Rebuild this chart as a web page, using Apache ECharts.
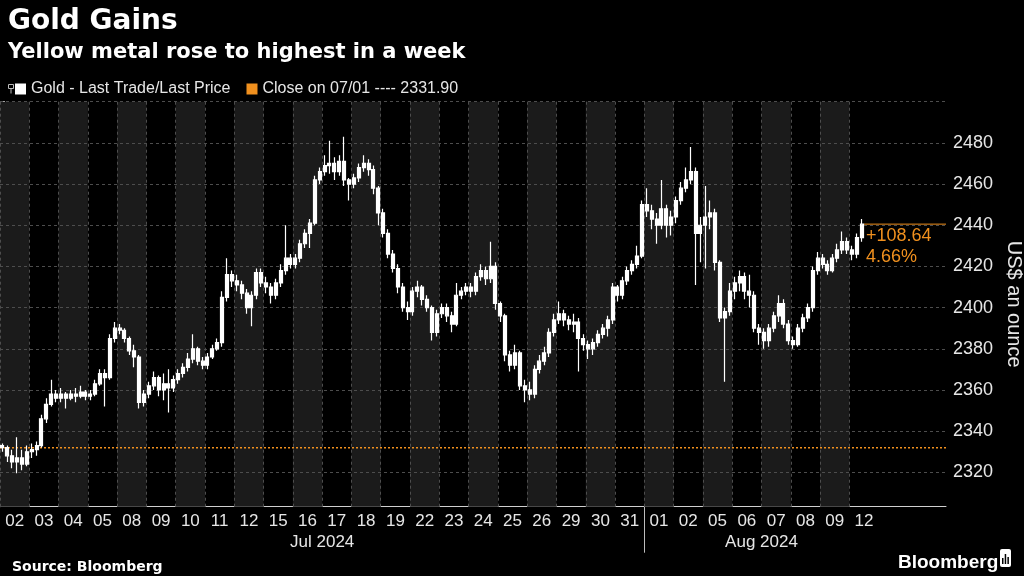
<!DOCTYPE html>
<html>
<head>
<meta charset="utf-8">
<script src="https://cdn.jsdelivr.net/npm/echarts@6/dist/echarts.min.js"></script>
<style>
html,body{margin:0;padding:0;background:#000;}
#chart{width:1024px;height:576px;}
</style>
</head>
<body>
<div id="chart"></div>
<script>
// ---------- data ----------
const dayLabels = ['02','03','04','05','08','09','10','11','12','15','16','17','18','19','22','23','24','25','26','29','30','31',
                   '01','02','05','06','07','08','09','12'];
const monthLabels = ['Jul 2024', 'Aug 2024'];
const monthStartDay = [0, 22];          // index of first trading day of each month
const barsPerDay = 6;
const yTicks = [2320, 2340, 2360, 2380, 2400, 2420, 2440, 2460, 2480];
const yMinorTicks = [2310,2320,2330,2340,2350,2360,2370,2380,2390,2400,2410,2420,2430,2440,2450,2460,2470,2480,2490,2500];
const closeRef = 2331.90;
const seriesName = 'Gold - Last Trade/Last Price';
const closeName = 'Close on 07/01 ---- 2331.90';
// intraday bars [open, close, low, high], 6 per trading day
const ohlc = [
 [2333,2332,2330,2334],[2332,2328,2325,2333],[2328,2325,2322,2331],[2325,2327,2319.5,2337],[2327,2324,2321,2331],[2324,2330,2323,2333],
 [2330,2331,2327,2334],[2331,2333,2328,2335],[2333,2346,2332,2348],[2346,2353,2344,2356],[2353,2358,2352,2365],[2358,2356,2354,2360],
 [2356,2358,2354,2361],[2358,2356,2351,2359],[2356,2358,2355,2360],[2358,2357,2354,2361],[2357,2359,2356,2362],[2359,2357,2355,2360],
 [2357,2358,2355,2360],[2358,2363,2357,2365],[2363,2368,2362,2370],[2368,2366,2352,2370],[2366,2385,2365,2387],[2385,2390,2383,2393],
 [2390,2389,2387,2392],[2389,2385,2383,2390],[2385,2379,2377,2386],[2379,2376,2371,2382],[2376,2354,2351,2377],[2354,2358,2352,2360],
 [2358,2362,2356,2364],[2362,2366,2360,2369],[2366,2360,2357,2367],[2360,2363,2355,2368],[2363,2361,2349,2370],[2361,2365,2359,2367],
 [2365,2368,2363,2370],[2368,2371,2366,2373],[2371,2375,2369,2378],[2375,2380,2373,2387],[2380,2374,2372,2381],[2374,2372,2370,2376],
 [2372,2376,2370,2378],[2376,2380,2375,2382],[2380,2383,2379,2385],[2383,2405,2381,2408],[2405,2416,2403,2424],[2416,2413,2410,2418],
 [2413,2411,2408,2416],[2411,2407,2404,2413],[2407,2400,2397,2409],[2400,2406,2391,2408],[2406,2417,2404,2419],[2417,2412,2410,2419],
 [2412,2410,2407,2415],[2410,2406,2402,2412],[2406,2412,2404,2414],[2412,2418,2410,2421],[2418,2424,2416,2440],[2424,2421,2419,2426],
 [2421,2424,2419,2426],[2424,2431,2422,2433],[2431,2436,2429,2438],[2436,2441,2429,2443],[2441,2462,2440,2464],[2462,2466,2460,2468],
 [2466,2469,2464,2474],[2469,2470,2465,2481],[2470,2466,2462,2473],[2466,2471,2464,2474],[2471,2462,2459,2483],[2462,2460,2452,2463],
 [2460,2463,2458,2465],[2463,2468,2461,2470],[2468,2470,2466,2474],[2470,2467,2464,2472],[2467,2458,2455,2469],[2458,2446,2440,2459],
 [2446,2436,2434,2448],[2436,2426,2424,2438],[2426,2419,2417,2428],[2419,2410,2407,2421],[2410,2400,2398,2412],[2400,2398,2394,2403],
 [2398,2408,2396,2410],[2408,2410,2405,2413],[2410,2404,2401,2411],[2404,2400,2398,2406],[2400,2388,2384,2401],[2388,2397,2386,2399],
 [2397,2400,2395,2402],[2400,2396,2393,2402],[2396,2392,2388,2398],[2392,2406,2391,2412],[2406,2408,2404,2410],[2408,2410,2406,2412],
 [2410,2408,2405,2412],[2408,2415,2406,2417],[2415,2418,2413,2421],[2418,2414,2411,2420],[2414,2420,2412,2432],[2420,2402,2399,2422],
 [2402,2396,2393,2403],[2396,2377,2374,2397],[2377,2372,2369,2379],[2372,2378,2370,2382],[2378,2362,2360,2379],[2362,2360,2354,2365],
 [2360,2358,2355,2364],[2358,2370,2356,2372],[2370,2374,2368,2377],[2374,2378,2372,2381],[2378,2388,2376,2390],[2388,2394,2386,2397],
 [2394,2397,2392,2403],[2397,2394,2391,2399],[2394,2392,2389,2396],[2392,2393,2388,2397],[2393,2385,2369,2395],[2385,2382,2379,2387],
 [2382,2380,2375,2384],[2380,2383,2377,2385],[2383,2387,2381,2389],[2387,2390,2385,2392],[2390,2394,2386,2396],[2394,2410,2392,2412],
 [2410,2406,2403,2411],[2406,2413,2404,2415],[2413,2418,2411,2420],[2418,2421,2416,2423],[2421,2425,2419,2430],[2425,2450,2424,2452],
 [2450,2447,2444,2458],[2447,2443,2438,2450],[2443,2440,2431,2446],[2440,2448,2438,2462],[2448,2440,2434,2450],[2440,2444,2435,2447],
 [2444,2452,2441,2454],[2452,2458,2450,2461],[2458,2462,2456,2468],[2462,2466,2460,2478],[2466,2436,2411,2468],[2436,2440,2422,2444],
 [2440,2444,2419,2459],[2444,2446,2438,2452],[2446,2422,2418,2448],[2422,2395,2393,2423],[2395,2398,2364,2400],[2398,2408,2396,2412],
 [2408,2412,2404,2415],[2412,2415,2408,2418],[2415,2408,2404,2417],[2408,2406,2400,2416],[2406,2390,2388,2408],[2390,2388,2382,2392],
 [2388,2384,2380,2390],[2384,2390,2381,2392],[2390,2396,2388,2398],[2396,2402,2393,2406],[2402,2392,2390,2404],[2392,2384,2382,2394],
 [2384,2382,2380,2386],[2382,2390,2381,2392],[2390,2395,2388,2397],[2395,2400,2393,2402],[2400,2418,2398,2420],[2418,2424,2416,2427],
 [2424,2421,2419,2426],[2421,2418,2416,2423],[2418,2424,2417,2426],[2424,2428,2422,2431],[2428,2432,2426,2437],[2432,2428,2426,2434],
 [2428,2426,2423,2430],[2426,2434,2424,2436],[2434,2440.54,2432,2443]
];

// ---------- derived ----------
const X_MAX = 32.3, Y_MIN = 2303.3, Y_MAX = 2500;
const candles = ohlc.map((d, i) => [(i + 0.5) / barsPerDay, d[0], d[1], d[2], d[3]]);
const lastX = ohlc.length / barsPerDay;
const lastClose = ohlc[ohlc.length - 1][1];
const change = lastClose - closeRef;
const pct = change / closeRef * 100;
const nDays = dayLabels.length;
const monthCenters = monthStartDay.map((s, i) => {
  const e = i + 1 < monthStartDay.length ? monthStartDay[i + 1] : nDays;
  return (s + e) / 2;
});
const bands = [];
for (let k = 0; k < nDays; k += 2) bands.push([{ xAxis: k }, { xAxis: k + 1 }]);
const vLines = [];
for (let k = 0; k < nDays; k++) vLines.push({ xAxis: k });
const hLines = yTicks.concat([Y_MAX]).map(v => ({ yAxis: v }));

const ORANGE = '#f0901e';
const chart = echarts.init(document.getElementById('chart'));
const option = {
  backgroundColor: '#000',
  animation: false,
  title: [
    { text: 'Gold Gains', left: 3, top: 3,
      textStyle: { color: '#fff', fontFamily: 'DejaVu Sans', fontWeight: 'bold', fontSize: 28 } },
    { text: 'Yellow metal rose to highest in a week', left: 3, top: 37,
      textStyle: { color: '#fff', fontFamily: 'DejaVu Sans', fontWeight: 'bold', fontSize: 21 } },
    { text: 'Source: Bloomberg', left: 7, top: 555,
      textStyle: { color: '#fff', fontFamily: 'DejaVu Sans', fontWeight: 'bold', fontSize: 14 } },
    { text: 'Bloomberg', left: 893, top: 548,
      textStyle: { color: '#fff', fontFamily: 'Liberation Sans', fontWeight: 'bold', fontSize: 19 } }
  ],
  legend: {
    left: 15, top: 81, padding: 0, itemWidth: 11, itemHeight: 11, itemGap: 16,
    textStyle: { color: '#e6e6e6', fontFamily: 'Liberation Sans', fontSize: 16 },
    data: [
      { name: seriesName, icon: 'rect', itemStyle: { color: '#fff', borderWidth: 0 } },
      { name: closeName, icon: 'rect', itemStyle: { color: ORANGE, borderWidth: 0 } }
    ],
    selectedMode: false
  },
  grid: { left: 0, right: 78, top: 101.7, bottom: 69.3, containLabel: false, outerBoundsMode: 'none' },
  xAxis: [
    { type: 'value', min: 0, max: X_MAX,
      axisLine: { show: true, lineStyle: { color: '#d0d0d0', width: 1 } },
      axisTick: { show: true, customValues: [monthStartDay[1]], length: 46, lineStyle: { color: '#bdbdbd', width: 1 } },
      splitLine: { show: false },
      axisLabel: { customValues: dayLabels.map((d, i) => i + 0.5), formatter: v => dayLabels[Math.floor(v)],
        color: '#e6e6e6', fontFamily: 'Liberation Sans', fontSize: 17, margin: 6 } },
    { type: 'value', min: 0, max: X_MAX, position: 'bottom', offset: 21,
      axisLine: { show: false }, axisTick: { show: false }, splitLine: { show: false },
      axisLabel: { customValues: monthCenters, formatter: v => monthLabels[monthCenters.indexOf(v)],
        color: '#e6e6e6', fontFamily: 'Liberation Sans', fontSize: 17, margin: 6 } }
  ],
  yAxis: {
    type: 'value', position: 'right', min: Y_MIN, max: Y_MAX,
    name: 'US$ an ounce', nameLocation: 'middle', nameRotate: -90, nameGap: 50,
    nameTextStyle: { color: '#e6e6e6', fontFamily: 'Liberation Sans', fontSize: 20 },
    axisLine: { show: true, lineStyle: { color: '#d0d0d0', width: 1 } },
    axisTick: { show: true, customValues: yMinorTicks, length: 5, lineStyle: { color: '#d0d0d0' } },
    splitLine: { show: false },
    axisLabel: { customValues: yTicks, formatter: v => String(v), color: '#e6e6e6', fontFamily: 'Liberation Sans', fontSize: 18, margin: 7 }
  },
  series: [
    { type: 'line', name: '_grid', data: [], silent: true, z: 0,
      markArea: { silent: true, itemStyle: { color: '#1b1b1b' }, data: bands },
      markLine: { silent: true, symbol: 'none', label: { show: false },
        lineStyle: { color: '#4d4d4d', type: [3, 3], width: 1 }, data: vLines.concat(hLines) } },
    { type: 'line', name: closeName, data: [[0, closeRef], [X_MAX, closeRef]], symbol: 'none', z: 3,
      itemStyle: { color: ORANGE }, lineStyle: { color: ORANGE, type: [2, 2], width: 1.5 } },
    { type: 'candlestick', name: seriesName, data: candles, encode: { x: 0, y: [1, 2, 3, 4] }, barWidth: 3.5, z: 5,
      itemStyle: { color: '#fff', color0: '#fff', borderColor: '#fff', borderColor0: '#fff', borderWidth: 1.2 } },
    { type: 'line', name: '_last', data: [[lastX, lastClose], [X_MAX, lastClose]], symbol: 'none', z: 4,
      lineStyle: { color: ORANGE, width: 1 } }
  ]
};
chart.setOption(option);

// annotation for change since reference close (positioned via the chart's own scales)
const p = chart.convertToPixel({ gridIndex: 0 }, [lastX, lastClose]);
chart.setOption({
  graphic: [
    { type: 'text', left: p[0] + 2, top: p[1] + 3,
      style: { text: (change >= 0 ? '+' : '') + change.toFixed(2), fill: ORANGE, font: '18px "Liberation Sans"' } },
    { type: 'text', left: p[0] + 2, top: p[1] + 24,
      style: { text: pct.toFixed(2) + '%', fill: ORANGE, font: '18px "Liberation Sans"' } },
    // small icon next to the first legend item
    { type: 'group', left: 6, top: 82, children: [
      { type: 'rect', shape: { x: 0, y: 0, width: 5, height: 4 }, style: { fill: 'none', stroke: '#bbb', lineWidth: 1 } },
      { type: 'line', shape: { x1: 2.5, y1: 4, x2: 2.5, y2: 9 }, style: { stroke: '#bbb', lineWidth: 1 } }
    ] },
    // logo mark
    { type: 'group', left: 1000, top: 549, children: [
      { type: 'rect', shape: { x: 0, y: 0, width: 11, height: 18, r: 2 }, style: { fill: '#fff' } },
      { type: 'rect', shape: { x: 2, y: 9, width: 1.5, height: 6 }, style: { fill: '#000' } },
      { type: 'rect', shape: { x: 4.7, y: 5, width: 1.5, height: 10 }, style: { fill: '#000' } },
      { type: 'rect', shape: { x: 7.4, y: 8, width: 1.5, height: 7 }, style: { fill: '#000' } }
    ] }
  ]
});
</script>
</body>
</html>
